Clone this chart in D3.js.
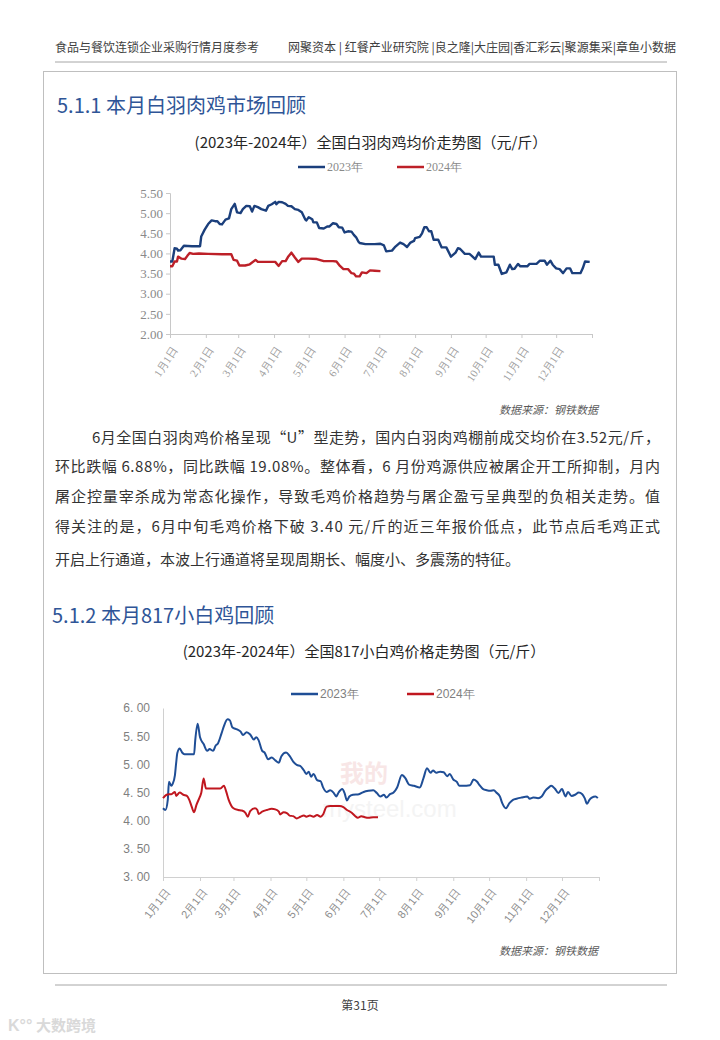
<!DOCTYPE html>
<html><head><meta charset="utf-8">
<script src="https://cdn.jsdelivr.net/npm/d3@7/dist/d3.min.js"></script>
<style>body{margin:0;background:#fff}svg{display:block}</style>
</head><body>
<svg id="page" width="720" height="1040"></svg>
<script>
// ---------- DATA ----------
const monthTickDays = [0,31,59,90,120,151,181,212,243,273,304,334,365];
const monthLabels = ["1月1日","2月1日","3月1日","4月1日","5月1日","6月1日","7月1日","8月1日","9月1日","10月1日","11月1日","12月1日"];
const seriesNames = ["2023年","2024年"];

// Chart 1: 白羽肉鸡均价 (元/斤)
const broilerTicks = [2.00,2.50,3.00,3.50,4.00,4.50,5.00,5.50];
const broilerDays2023 = [0,2,4,6,7,9,12,19,26,27,30,33,36,39,41,43,45,48,51,53,56,58,61,63,66,69,71,73,76,79,83,85,88,91,92,94,97,100,102,105,108,111,114,117,118,120,123,124,127,129,133,136,138,141,144,146,149,151,154,157,159,161,163,164,169,177,182,185,187,192,195,199,202,205,208,211,212,216,218,220,222,224,226,228,232,235,239,243,247,249,251,255,259,261,264,267,269,280,281,284,287,291,294,296,298,301,303,309,311,317,320,324,326,329,331,334,337,340,343,346,348,355,357,359,363];
const broilerPrice2023 = [3.80,3.80,4.13,4.12,4.07,4.08,4.19,4.18,4.18,4.42,4.59,4.73,4.82,4.80,4.80,4.73,4.72,4.84,4.87,5.10,5.23,5.02,5.00,5.10,5.18,5.17,5.04,5.18,5.15,5.10,5.06,5.18,5.22,5.28,5.22,5.28,5.27,5.23,5.18,5.17,5.10,5.08,5.02,4.84,4.82,4.90,4.85,4.77,4.77,4.63,4.62,4.67,4.67,4.75,4.73,4.65,4.64,4.52,4.55,4.54,4.46,4.40,4.29,4.26,4.23,4.23,4.24,4.20,4.05,4.07,4.17,4.27,4.23,4.16,4.27,4.31,4.38,4.41,4.50,4.65,4.65,4.55,4.55,4.34,4.34,4.15,4.15,3.92,4.02,4.13,4.11,3.99,3.99,3.94,3.86,4.02,3.92,3.92,3.72,3.72,3.49,3.53,3.72,3.61,3.62,3.74,3.68,3.68,3.74,3.74,3.82,3.82,3.72,3.82,3.72,3.63,3.61,3.51,3.63,3.63,3.51,3.51,3.63,3.80,3.79];
const broilerDays2024 = [0,2,4,6,7,10,13,15,17,20,25,33,45,53,55,58,60,65,69,74,76,91,94,97,100,102,105,108,111,114,120,127,133,141,144,147,150,154,157,159,161,164,166,170,173,177,182];
const broilerPrice2024 = [3.68,3.68,3.80,3.80,3.92,3.87,3.86,3.94,4.01,3.99,4.00,3.99,3.98,3.98,3.84,3.82,3.70,3.70,3.73,3.84,3.79,3.79,3.69,3.81,3.81,3.91,4.02,3.90,3.79,3.87,3.87,3.86,3.81,3.81,3.80,3.69,3.61,3.61,3.51,3.50,3.43,3.43,3.53,3.51,3.58,3.57,3.56];

// Chart 2: 817小白鸡价格 (元/斤)
const chickTicks = [3.00,3.50,4.00,4.50,5.00,5.50,6.00];
const chickDays2023 = [0,2,4,5,7,8,10,11,12,14,16,18,26,27,29,31,34,37,39,42,44,46,49,51,54,56,58,62,65,67,70,73,76,78,80,83,85,88,91,94,97,99,103,106,109,112,115,118,120,122,124,126,129,132,134,137,140,143,145,147,150,152,154,156,159,164,168,172,176,179,182,185,187,190,193,196,200,203,206,210,215,218,221,224,226,229,232,235,238,240,243,246,248,251,257,260,263,265,268,271,274,277,279,282,284,287,290,293,296,300,305,307,310,314,317,320,323,325,328,331,334,337,339,342,345,348,351,353,355,357,359,362,364];
const chickPrice2023 = [4.22,4.19,4.37,4.69,4.62,4.65,4.81,5.02,5.20,5.28,5.21,5.18,5.18,5.43,5.72,5.48,5.36,5.24,5.27,5.24,5.33,5.37,5.55,5.68,5.80,5.78,5.66,5.62,5.58,5.52,5.57,5.53,5.44,5.48,5.43,5.24,5.21,5.09,5.12,5.07,5.03,5.14,5.21,5.15,5.05,4.99,4.97,4.89,4.83,4.87,4.78,4.83,4.72,4.70,4.59,4.51,4.54,4.49,4.43,4.50,4.56,4.49,4.36,4.43,4.46,4.47,4.51,4.53,4.54,4.49,4.43,4.46,4.41,4.47,4.50,4.59,4.81,4.75,4.64,4.62,4.59,4.75,4.93,4.85,4.89,4.85,4.87,4.86,4.79,4.83,4.73,4.69,4.62,4.62,4.63,4.73,4.69,4.63,4.56,4.54,4.53,4.54,4.50,4.43,4.31,4.22,4.31,4.37,4.39,4.41,4.43,4.39,4.41,4.40,4.43,4.53,4.59,4.62,4.57,4.49,4.56,4.43,4.51,4.44,4.46,4.50,4.47,4.40,4.30,4.37,4.41,4.43,4.40];
const chickDays2024 = [0,3,5,7,10,11,14,17,20,22,24,26,28,31,32,34,36,39,48,51,53,55,59,63,66,69,71,73,77,79,80,83,87,91,94,97,98,101,104,106,109,112,115,118,120,123,126,129,132,134,137,140,148,151,154,158,161,163,166,169,172,176,180];
const chickPrice2024 = [4.40,4.46,4.47,4.47,4.51,4.44,4.50,4.46,4.44,4.37,4.25,4.15,4.28,4.43,4.49,4.75,4.57,4.57,4.57,4.62,4.51,4.37,4.22,4.19,4.18,4.14,4.07,4.17,4.22,4.19,4.12,4.16,4.19,4.21,4.20,4.16,4.11,4.15,4.13,4.09,4.08,4.04,4.07,4.09,4.07,4.09,4.07,4.10,4.07,4.11,4.25,4.26,4.26,4.24,4.19,4.14,4.08,4.05,4.08,4.06,4.05,4.06,4.06];

// Text content
const headerLeft = "食品与餐饮连锁企业采购行情月度参考";
const headerRight = "网聚资本 | 红餐产业研究院 |良之隆|大庄园|香汇彩云|聚源集采|章鱼小数据";
const heading1 = "5.1.1 本月白羽肉鸡市场回顾";
const title1 = "(2023年-2024年）全国白羽肉鸡均价走势图（元/斤）";
const heading2 = "5.1.2 本月817小白鸡回顾";
const title2 = "(2023年-2024年）全国817小白鸡价格走势图（元/斤）";
const sourceText = "数据来源：钢铁数据";
const paragraph = [
  "6月全国白羽肉鸡价格呈现“U”型走势，国内白羽肉鸡棚前成交均价在3.52元/斤，",
  "环比跌幅 6.88%，同比跌幅 19.08%。整体看，6 月份鸡源供应被屠企开工所抑制，月内",
  "屠企控量宰杀成为常态化操作，导致毛鸡价格趋势与屠企盈亏呈典型的负相关走势。值",
  "得关注的是，6月中旬毛鸡价格下破 3.40 元/斤的近三年报价低点，此节点后毛鸡正式",
  "开启上行通道，本波上行通道将呈现周期长、幅度小、多震荡的特征。"
];
const pageLabel = "第31页";

// ---------- DRAW ----------
const svg = d3.select("#page");
const CJK = "'Noto Sans CJK SC','Noto Sans',sans-serif";
const SERIF = "'Liberation Serif','DejaVu Serif',serif";
const SANS = "'Liberation Sans',Arial,sans-serif";

svg.append("rect").attr("width",720).attr("height",1040).attr("fill","#fff");

// header
svg.append("text").attr("x",55).attr("y",52).text(headerLeft)
  .style("font-family",CJK).style("font-size","12px").attr("fill","#404040");
svg.append("text").attr("x",288).attr("y",52).text(headerRight)
  .attr("textLength",388).attr("lengthAdjust","spacingAndGlyphs")
  .style("font-family",CJK).style("font-size","12px").attr("fill","#404040");
svg.append("line").attr("x1",55).attr("x2",667).attr("y1",62).attr("y2",62)
  .attr("stroke","#a6a6a6").attr("stroke-width",1);

// content box
svg.append("rect").attr("x",43.5).attr("y",71.5).attr("width",633).attr("height",902)
  .attr("fill","none").attr("stroke","#bfbfbf").attr("stroke-width",1);

// headings
svg.append("text").attr("x",57).attr("y",113).text(heading1)
  .style("font-family",CJK).style("font-size","20px").attr("fill","#2f5597");
svg.append("text").attr("x",52).attr("y",623).text(heading2)
  .style("font-family",CJK).style("font-size","20px").attr("fill","#2f5597");

// chart titles
svg.append("text").attr("x",371).attr("y",148).attr("text-anchor","middle").text(title1)
  .style("font-family",CJK).style("font-size","15px").attr("fill","#262626");
svg.append("text").attr("x",364).attr("y",657).attr("text-anchor","middle").text(title2)
  .style("font-family",CJK).style("font-size","15px").attr("fill","#262626");

// paragraph
const paraX = [92,55,55,55,55];
const paraY = [443,472,502,532,565];
paragraph.forEach((line,i)=>{
  const t = svg.append("text").attr("x",paraX[i]).attr("y",paraY[i]).text(line)
    .style("font-family",CJK).style("font-size","15px").attr("fill","#333");
  if (i < paragraph.length-1) t.attr("textLength",660-paraX[i]).attr("lengthAdjust","spacing");
});

// footer
svg.append("line").attr("x1",55).attr("x2",667).attr("y1",985).attr("y2",985)
  .attr("stroke","#a6a6a6").attr("stroke-width",1);
svg.append("text").attr("x",360).attr("y",1010).attr("text-anchor","middle").text(pageLabel)
  .style("font-family",CJK).style("font-size","12px").attr("fill","#404040");
svg.append("text").attr("x",36).attr("y",1031).text("大数跨境")
  .style("font-family",CJK).style("font-size","15px").style("font-weight","bold").attr("fill","#d9d9d9");
svg.append("text").attr("x",8).attr("y",1031).text("K°°")
  .style("font-family",SANS).style("font-size","16px").style("font-weight","bold").attr("fill","#d9d9d9");

// generic chart builder
function drawChart(o){
  const g = svg.append("g");
  const x = d3.scaleLinear().domain([0,365]).range([o.x0,o.x1]);
  const y = d3.scaleLinear().domain(o.yDomain).range([o.yb,o.yt]);

  if (o.watermark) o.watermark(g);

  const ya = g.append("g").attr("transform",`translate(${o.x0},0)`)
    .call(d3.axisLeft(y).tickValues(o.yTicks).tickSize(o.yTickSize).tickPadding(o.yPad).tickFormat(o.yFmt));
  ya.select(".domain").attr("stroke",o.axisColor);
  ya.selectAll(".tick line").attr("stroke",o.axisColor);
  ya.selectAll("text").style("font-family",o.font).style("font-size",o.yFont).attr("fill",o.labelColor);

  const xa = g.append("g").attr("transform",`translate(0,${o.yb})`)
    .call(d3.axisBottom(x).tickValues(monthTickDays).tickSize(4).tickSizeOuter(0)
      .tickFormat((d,i)=> monthLabels[i] || ""));
  xa.select(".domain").attr("stroke",o.axisColor);
  xa.selectAll(".tick line").attr("stroke",o.axisColor);
  xa.selectAll("text").attr("x",0).attr("y",0).attr("dy","0.35em")
    .attr("transform",`translate(${o.lblDx},${o.lblDy}) rotate(${o.rot})`)
    .style("text-anchor","end").style("font-family",o.font).style("font-size",o.xFont)
    .attr("fill",o.xLabelColor);

  const line = d3.line().x(d=>x(d[0])).y(d=>y(d[1])).curve(o.curve);
  const s23 = o.days23.map((d,i)=>[d,o.vals23[i]]);
  const s24 = o.days24.map((d,i)=>[d,o.vals24[i]]);
  g.append("path").datum(s23).attr("d",line).attr("fill","none").attr("stroke",o.blue)
    .attr("stroke-width",o.lw).attr("stroke-linejoin","round");
  g.append("path").datum(s24).attr("d",line).attr("fill","none").attr("stroke",o.red)
    .attr("stroke-width",o.lw).attr("stroke-linejoin","round");

  const colors = [o.blue,o.red];
  o.legendX.forEach((lx,i)=>{
    g.append("line").attr("x1",lx).attr("x2",lx+27).attr("y1",o.legendY).attr("y2",o.legendY)
      .attr("stroke",colors[i]).attr("stroke-width",2.5);
    g.append("text").attr("x",lx+29).attr("y",o.legendY).attr("dy","0.35em").text(seriesNames[i])
      .style("font-family",o.font).style("font-size","12px").attr("fill",o.labelColor);
  });

  g.append("text").attr("x",598).attr("y",o.srcY).attr("text-anchor","end").text(sourceText)
    .style("font-family",CJK).style("font-size","11px").style("font-style","italic")
    .attr("fill","#595959");
}

drawChart({
  x0:170, x1:592, yb:334, yt:193, yDomain:[2,5.5], yTicks:broilerTicks,
  yTickSize:4, yPad:3, yFmt:d3.format(".2f"), font:SERIF, yFont:"13px", xFont:"11px",
  axisColor:"#c8c8c8", labelColor:"#8a8a8a", xLabelColor:"#a0a0a0",
  lblDx:4, lblDy:14, rot:-57, curve:d3.curveLinear,
  days23:broilerDays2023, vals23:broilerPrice2023, days24:broilerDays2024, vals24:broilerPrice2024,
  blue:"#1b3f7c", red:"#bd2028", lw:2.4, legendX:[298,397], legendY:167, srcY:414
});

drawChart({
  x0:163, x1:599, yb:877, yt:708, yDomain:[3,6], yTicks:chickTicks,
  yTickSize:0, yPad:13, yFmt:d=>d.toFixed(2).replace(".",". "), font:SANS, yFont:"12px", xFont:"11px",
  axisColor:"#d0d0d0", labelColor:"#7f7f7f", xLabelColor:"#8c8c8c",
  lblDx:4, lblDy:13, rot:-52, curve:d3.curveMonotoneX,
  days23:chickDays2023, vals23:chickPrice2023, days24:chickDays2024, vals24:chickPrice2024,
  blue:"#1f4e96", red:"#c0171f", lw:2, legendX:[291,407], legendY:694, srcY:955,
  watermark:(g)=>{
    g.append("text").attr("x",340).attr("y",782).text("我的")
      .style("font-family",CJK).style("font-size","24px").style("font-weight","bold")
      .attr("fill","#f8e6e6");
    g.append("text").attr("x",322).attr("y",817).text("mysteel.com")
      .style("font-family",SANS).style("font-size","24px").attr("fill","#f4f4f4");
  }
});
</script>
</body></html>
